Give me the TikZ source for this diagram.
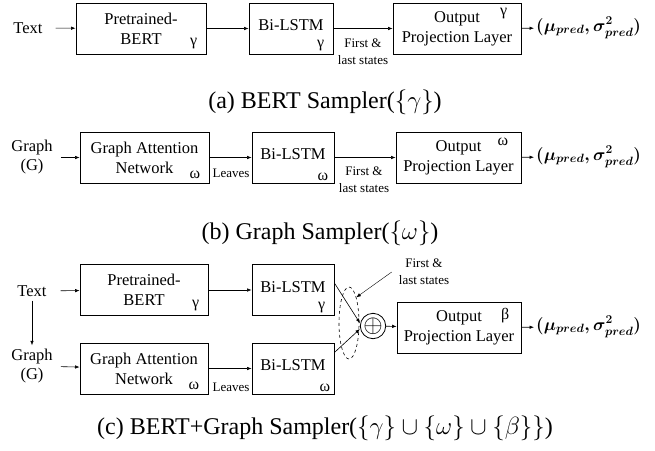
\documentclass[tikz,border=0pt]{standalone}
\usepackage{amsmath}
\usepackage{amssymb}
\usepackage{fontspec}
\setmainfont{Liberation Serif}
\usetikzlibrary{arrows.meta,shapes.geometric}

\begin{document}
\begin{tikzpicture}[x=1pt,y=-1pt,
  blk/.style={draw, line width=0.8pt, minimum height=51pt, align=center, inner sep=0pt, font=\fontsize{16.5}{20}\selectfont},
  lstm/.style={blk, minimum width=82pt, text depth=6pt},
  lbl/.style={align=center, inner sep=0pt, font=\fontsize{16.5}{19}\selectfont},
  sml/.style={align=center, inner sep=0pt, font=\fontsize{13}{17}\selectfont},
  grk/.style={inner sep=0pt, font=\fontsize{16}{16}\selectfont},
  captxt/.style={inner sep=0pt, font=\fontsize{24}{26}\selectfont},
  res/.style={anchor=west, inner sep=0pt, font=\fontsize{17}{20}\selectfont},
  arr/.style={-{Latex[length=4.5pt,width=3.5pt]}, line width=0.6pt}]
\useasboundingbox (0,0) rectangle (655,450);
\node[lbl] (txtA) at (28,28) {Text};
\node[blk, minimum width=130pt] (bertA) at (141,28.5) {Pretrained-\\BERT};
\node[lstm, minimum width=84pt] (lstmA) at (291,28.5) {Bi-LSTM};
\node[blk, minimum width=128pt] (outA) at (457,28.5) {Output\\Projection Layer};
\node[res] (resA) at (536,28) {$\boldsymbol{(\mu_{pred},\sigma^2_{pred})}$};
\node[grk, anchor=south east] at ([xshift=-9pt,yshift=5pt]bertA.south east) {γ};
\node[grk, anchor=south east] at ([xshift=-9pt,yshift=3pt]lstmA.south east) {γ};
\node[grk, anchor=north east] at ([xshift=-14pt,yshift=-5pt]outA.north east) {γ};
\node[sml] (flA) at (363,52) {First \&\\last states};
\draw[arr, shorten <=13pt] (txtA) -- (bertA);
\draw[arr] (bertA) -- (lstmA);
\draw[arr] (lstmA) -- (outA);
\draw[arr, shorten >=2pt] (outA) -- (resA);
\node[captxt] (capA) at (325,102) {(a) BERT Sampler($\{\gamma\}$)};
\node[lbl] (grB) at (32,157.5) {Graph\\(G)};
\node[blk, minimum width=129pt] (gatB) at (144.5,157.5) {Graph Attention\\Network};
\node[lstm] (lstmB) at (293,157.5) {Bi-LSTM};
\node[blk, minimum width=125pt] (outB) at (458.5,157.5) {Output\\Projection Layer};
\node[res] (resB) at (536,157) {$\boldsymbol{(\mu_{pred},\sigma^2_{pred})}$};
\node[grk, anchor=south east] at ([xshift=-9pt,yshift=5pt]gatB.south east) {ω};
\node[grk, anchor=south east] at ([xshift=-6pt,yshift=3pt]lstmB.south east) {ω};
\node[grk, anchor=north east] at ([xshift=-13pt,yshift=-6pt]outB.north east) {ω};
\node[sml] (lvB) at (231,173) {Leaves};
\node[sml] (flB) at (364,180) {First \&\\last states};
\draw[arr, shorten <=8pt] (grB) -- (gatB);
\draw[arr] (gatB) -- (lstmB);
\draw[arr] (lstmB) -- (outB);
\draw[arr, shorten >=2pt] (outB) -- (resB);
\node[captxt] (capB) at (320,233) {(b) Graph Sampler($\{\omega\}$)};
\node[lbl] (txtC) at (32,291) {Text};
\node[lbl] (grC) at (32,366) {Graph\\(G)};
\node[blk, minimum width=128pt] (bertC) at (144,290) {Pretrained-\\BERT};
\node[lstm] (lstmC) at (293,290) {Bi-LSTM};
\node[blk, minimum width=128pt] (gatC) at (144,368.5) {Graph Attention\\Network};
\node[lstm] (lstmD) at (293,368.5) {Bi-LSTM};
\node[blk, minimum width=124pt] (outC) at (459,327.5) {Output\\Projection Layer};
\node[res] (resC) at (536,327) {$\boldsymbol{(\mu_{pred},\sigma^2_{pred})}$};
\node[grk, anchor=south east] at ([xshift=-9pt,yshift=5pt]bertC.south east) {γ};
\node[grk, anchor=south east] at ([xshift=-9pt,yshift=3pt]lstmC.south east) {γ};
\node[grk, anchor=south east] at ([xshift=-9pt,yshift=5pt]gatC.south east) {ω};
\node[grk, anchor=south east] at ([xshift=-4pt,yshift=3pt]lstmD.south east) {ω};
\node[grk, anchor=north east] at ([xshift=-12pt,yshift=-6pt]outC.north east) {β};
\node[sml] (lvC) at (231,387) {Leaves};
\node[draw, circle, line width=0.8pt, minimum size=21pt, inner sep=0pt, font=\fontsize{24}{24}\selectfont] (sumC) at (373,326) {$\oplus$};
\node[draw, dashed, ellipse, line width=0.6pt, minimum width=20pt, minimum height=72pt, inner sep=0pt] (grpC) at (349,323) {};
\node[sml] (flC) at (424,272) {First \&\\last states};
\draw[arr, shorten <=4pt, shorten >=3.5pt] (txtC) -- (grC);
\draw[arr, shorten <=14pt] (txtC) -- (bertC);
\draw[arr, shorten <=8pt] (grC) -- (gatC);
\draw[arr] (bertC) -- (lstmC);
\draw[arr] (gatC) -- (lstmD);
\draw[arr] ([yshift=7pt]lstmC.east) -- ([yshift=3pt]sumC.west);
\draw[arr] ([yshift=16pt]lstmD.east) -- ([yshift=-3pt]sumC.west);
\draw[arr] (sumC) -- (outC);
\draw[arr, shorten >=2pt] (outC) -- (resC);
\draw[arr, line width=0.4pt] ([xshift=-7pt]flC.west) -- (grpC.north east);
\node[captxt] (capC) at (325,428) {(c) BERT+Graph Sampler($\{\gamma\}\cup\{\omega\}\cup\{\beta\}\}$)};
\end{tikzpicture}
\end{document}
